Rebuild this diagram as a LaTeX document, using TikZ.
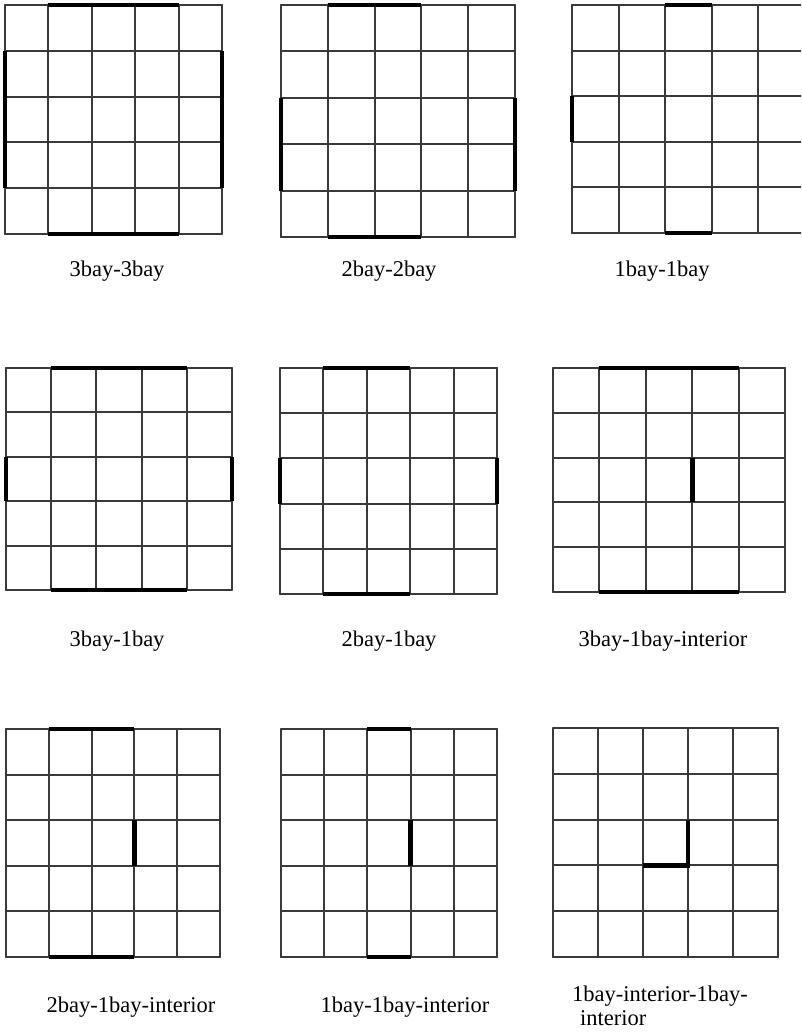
\documentclass[tikz,border=0pt]{standalone}
\usepackage{fontspec}
\setmainfont{Liberation Serif}
\definecolor{gridgray}{HTML}{3A3A3A}
\tikzset{
  gridline/.style={draw=gridgray, line width=2pt, line cap=round},
  wall/.style={draw=black, line width=4.6pt, line cap=butt},
  lbl/.style={font=\fontsize{22.5}{24}\selectfont, anchor=base, inner sep=0pt},
}
\newcommand{\bgrid}{%
  \foreach \i in {0,...,5} {\draw[gridline] (\i,0) -- (\i,5); \draw[gridline] (0,\i) -- (5,\i);}%
}
\begin{document}
\begin{tikzpicture}[x=1pt,y=-1pt]
\useasboundingbox (0,0) rectangle (801,1032);
\fill[white] (0,0) rectangle (801,1032);
\clip (0,0) rectangle (801,1032);
% Grid 1: 3bay-3bay
\begin{scope}[shift={(5,5)}, x=43.4pt, y=-45.8pt]
  \bgrid
  \draw[wall] (1,0) -- (4,0); \draw[wall] (1,5) -- (4,5);
  \draw[wall] (0,1) -- (0,4); \draw[wall] (5,1) -- (5,4);
\end{scope}
% Grid 2: 2bay-2bay
\begin{scope}[shift={(281,5)}, x=46.8pt, y=-46.4pt]
  \bgrid
  \draw[wall] (1,0) -- (3,0); \draw[wall] (1,5) -- (3,5);
  \draw[wall] (0,2) -- (0,4); \draw[wall] (5,2) -- (5,4);
\end{scope}
% Grid 3: 1bay-1bay
\begin{scope}[shift={(572,5)}, x=46.5pt, y=-45.6pt]
  \bgrid
  \draw[wall] (2,0) -- (3,0); \draw[wall] (2,5) -- (3,5);
  \draw[wall] (0,2) -- (0,3);
\end{scope}
% Grid 4: 3bay-1bay
\begin{scope}[shift={(6,368)}, x=45.2pt, y=-44.4pt]
  \bgrid
  \draw[wall] (1,0) -- (4,0); \draw[wall] (1,5) -- (4,5);
  \draw[wall] (0,2) -- (0,3); \draw[wall] (5,2) -- (5,3);
\end{scope}
% Grid 5: 2bay-1bay
\begin{scope}[shift={(280,368)}, x=43.4pt, y=-45.2pt]
  \bgrid
  \draw[wall] (1,0) -- (3,0); \draw[wall] (1,5) -- (3,5);
  \draw[wall] (0,2) -- (0,3); \draw[wall] (5,2) -- (5,3);
\end{scope}
% Grid 6: 3bay-1bay-interior
\begin{scope}[shift={(553,368)}, x=46.4pt, y=-44.8pt]
  \bgrid
  \draw[wall] (1,0) -- (4,0); \draw[wall] (1,5) -- (4,5);
  \draw[wall] (3,2) -- (3,3);
\end{scope}
% Grid 7: 2bay-1bay-interior
\begin{scope}[shift={(6,729)}, x=42.8pt, y=-45.6pt]
  \bgrid
  \draw[wall] (1,0) -- (3,0); \draw[wall] (1,5) -- (3,5);
  \draw[wall] (3,2) -- (3,3);
\end{scope}
% Grid 8: 1bay-1bay-interior
\begin{scope}[shift={(281,729)}, x=43.2pt, y=-45.6pt]
  \bgrid
  \draw[wall] (2,0) -- (3,0); \draw[wall] (2,5) -- (3,5);
  \draw[wall] (3,2) -- (3,3);
\end{scope}
% Grid 9: 1bay-interior-1bay-interior
\begin{scope}[shift={(553,728)}, x=45pt, y=-45.8pt]
  \bgrid
  \draw[wall, line join=miter] (3,2) -- (3,3) -- (2,3);
\end{scope}
% Labels
\node[lbl] (l1) at (117,276) {3bay-3bay};
\node[lbl] (l2) at (389,276) {2bay-2bay};
\node[lbl] (l3) at (662,276) {1bay-1bay};
\node[lbl] (l4) at (117,646) {3bay-1bay};
\node[lbl] (l5) at (389,646) {2bay-1bay};
\node[lbl] (l6) at (663,646) {3bay-1bay-interior};
\node[lbl] (l7) at (131,1012) {2bay-1bay-interior};
\node[lbl] (l8) at (405,1012) {1bay-1bay-interior};
\node[lbl, anchor=base west] (l9a) at (572,1001) {1bay-interior-1bay-};
\node[lbl, anchor=base west] (l9b) at (580,1025) {interior};
\end{tikzpicture}
\end{document}
